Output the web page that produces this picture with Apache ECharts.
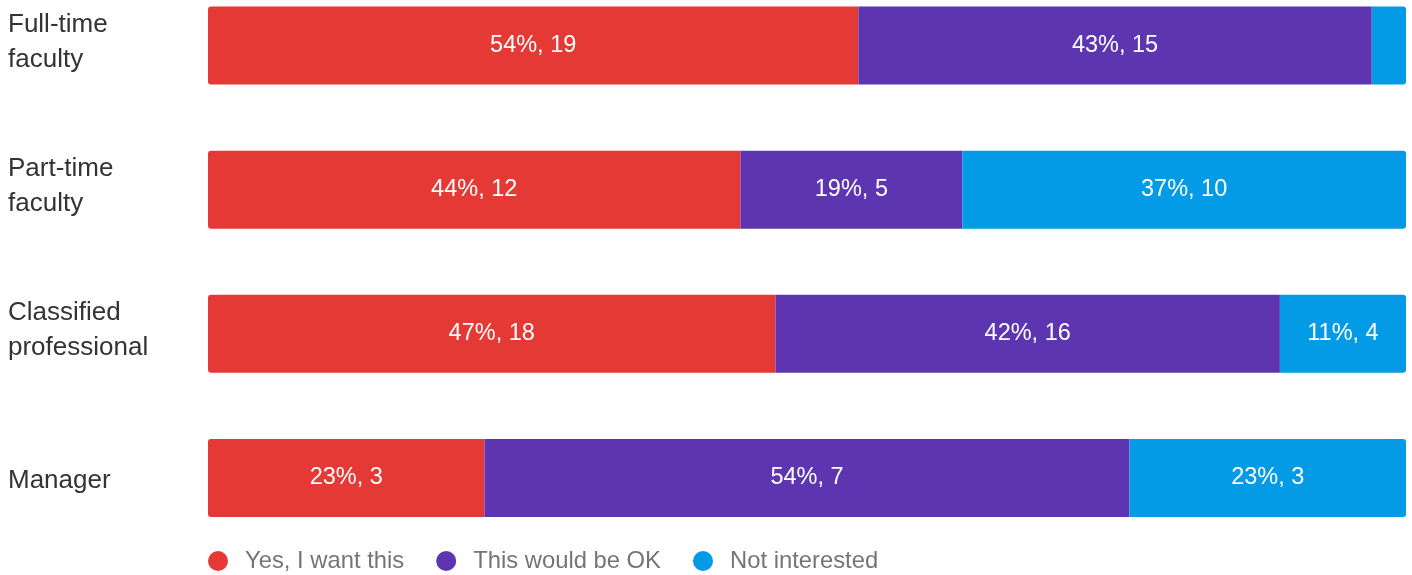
<!DOCTYPE html>
<html>
<head>
<meta charset="utf-8">
<script src="https://cdn.jsdelivr.net/npm/echarts@6/dist/echarts.min.js"></script>
<style>
html,body{margin:0;padding:0;background:#fff;}
#chart{width:1412px;height:575px;}
</style>
</head>
<body>
<div id="chart"></div>
<script>
var categories = ['Full-time\nfaculty', 'Part-time\nfaculty', 'Classified\nprofessional', 'Manager'];
var seriesNames = ['Yes, I want this', 'This would be OK', 'Not interested'];
var yesCounts = [19, 12, 18, 3];
var okCounts = [15, 5, 16, 7];
var notCounts = [1, 10, 4, 3];
var colors = ['#E53935', '#5E35B1', '#039BE5'];

var FONT = '"Liberation Sans", Arial, sans-serif';
var allCounts = [yesCounts, okCounts, notCounts];
var totals = categories.map(function (c, i) {
  return yesCounts[i] + okCounts[i] + notCounts[i];
});

var radii = [[3, 0, 0, 3], [0, 0, 0, 0], [0, 3, 3, 0]];

var series = allCounts.map(function (counts, s) {
  return {
    name: seriesNames[s],
    type: 'bar',
    stack: 'total',
    barWidth: 78,
    clip: false,
    itemStyle: { color: colors[s], borderRadius: radii[s] },
    emphasis: { disabled: true },
    data: counts.map(function (v, i) {
      var pct = v / totals[i] * 100;
      return {
        value: pct,
        count: v,
        label: { show: pct >= 5 }
      };
    }),
    label: {
      show: true,
      position: 'inside',
      color: '#ffffff',
      fontFamily: FONT,
      fontSize: 23.5,
      formatter: function (p) {
        return Math.round(p.value) + '%, ' + p.data.count;
      }
    }
  };
});

var chart = echarts.init(document.getElementById('chart'));
chart.setOption({
  animation: false,
  color: colors,
  grid: { left: 208, right: 6, top: 45.5, bottom: 97.1 },
  xAxis: {
    type: 'value', min: 0, max: 100, show: false
  },
  yAxis: {
    type: 'category',
    data: categories,
    inverse: true,
    boundaryGap: false,
    axisLine: { show: false },
    axisTick: { show: false },
    splitLine: { show: false },
    axisLabel: {
      align: 'left',
      margin: 200,
      color: '#333333',
      fontFamily: FONT,
      fontSize: 26,
      lineHeight: 35,
      formatter: function (v) {
        return v.indexOf('\n') >= 0 ? v + '\n{s| }' : '{t| }\n' + v;
      },
      rich: {
        s: { fontSize: 6, lineHeight: 7 },
        t: { fontSize: 4, lineHeight: 5 }
      }
    }
  },
  legend: {
    left: 203,
    top: 544,
    icon: 'circle',
    itemWidth: 20,
    itemHeight: 20,
    itemGap: 32,
    selectedMode: false,
    textStyle: {
      color: '#757575',
      fontFamily: FONT,
      fontSize: 23.8,
      padding: [0, 0, 0, 12]
    },
    data: seriesNames
  },
  series: series
});
</script>
</body>
</html>
